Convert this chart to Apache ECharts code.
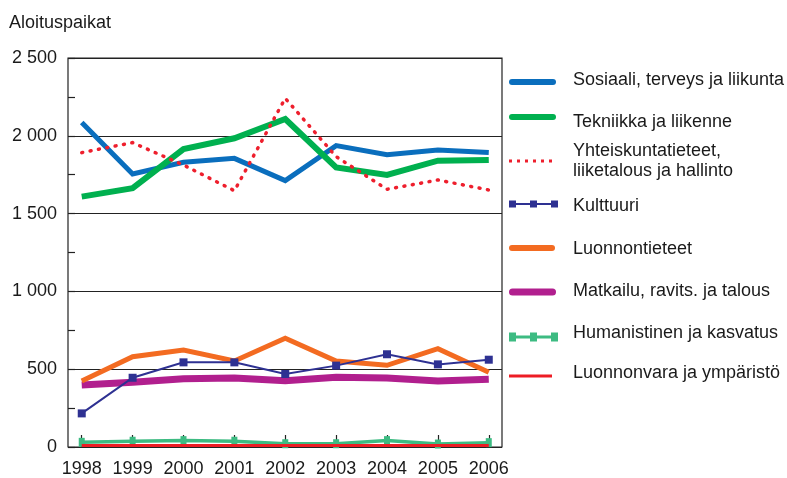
<!DOCTYPE html>
<html>
<head>
<meta charset="utf-8">
<script src="https://cdn.jsdelivr.net/npm/echarts@6/dist/echarts.min.js"></script>
<style>
html,body{margin:0;padding:0;background:#fff;}
#chart{width:787px;height:478px;}
</style>
</head>
<body>
<div id="chart"></div>
<script>
var years = [1998, 1999, 2000, 2001, 2002, 2003, 2004, 2005, 2006];
var yTicks = [0, 500, 1000, 1500, 2000, 2500];
var yTickLabels = ['0', '500', '1 000', '1 500', '2 000', '2 500'];
var yAxisTitle = 'Aloituspaikat';

var names = [
  'Sosiaali, terveys ja liikunta',
  'Tekniikka ja liikenne',
  'Yhteiskuntatieteet,\nliiketalous ja hallinto',
  'Kulttuuri',
  'Luonnontieteet',
  'Matkailu, ravits. ja talous',
  'Humanistinen ja kasvatus',
  'Luonnonvara ja ympäristö'
];

var sosiaali = [2085, 1755, 1830, 1855, 1712, 1937, 1879, 1909, 1892];
var tekniikka = [1609, 1663, 1915, 1984, 2108, 1797, 1748, 1840, 1845];
var yhteiskunta = [1892, 1956, 1812, 1647, 2241, 1866, 1656, 1716, 1652];
var kulttuuri = [216, 445, 544, 544, 469, 523, 596, 531, 561];
var luonnontieteet = [424, 580, 623, 553, 699, 553, 525, 632, 480];
var matkailu = [398, 416, 439, 443, 426, 448, 443, 424, 435];
var humanistinen = [30, 37, 41, 37, 21, 21, 41, 19, 28];
var luonnonvara = [10, 10, 10, 10, 10, 10, 10, 10, 10];

var FONT = "'Liberation Sans', Arial, sans-serif";
var FS = 18;

function pairs(vals) {
  return vals.map(function (v, i) { return [years[i], v]; });
}

var seriesDefs = [
  {data: sosiaali, color: '#0a6ebd', width: 5, z: 3},
  {data: tekniikka, color: '#00b04f', width: 6, z: 3},
  {data: yhteiskunta, color: '#ee1f2d', width: 3.5, dash: [1, 7.5], cap: 'round', z: 4},
  {data: kulttuuri, color: '#2e3192', width: 2, symbol: 'rect', symbolSize: 8, z: 6},
  {data: luonnontieteet, color: '#f36b21', width: 5, z: 5},
  {data: matkailu, color: '#b11f8e', width: 7, z: 4},
  {data: humanistinen, color: '#3dbb82', width: 3.5, symbol: 'rect', symbolSize: [6, 9], z: 3},
  {data: luonnonvara, color: '#ed1c24', width: 3, z: 4}
];

var series = seriesDefs.map(function (d, i) {
  return {
    name: names[i],
    type: 'line',
    data: pairs(d.data),
    color: d.color,
    z: d.z,
    symbol: d.symbol || 'none',
    symbolSize: d.symbolSize || 0,
    showSymbol: !!d.symbol,
    lineStyle: {color: d.color, width: d.width, type: d.dash || 'solid', cap: d.cap || 'butt', join: 'miter'},
    itemStyle: {color: d.color},
    emphasis: {disabled: true},
    animation: false,
    clip: false
  };
});

// legend icon shapes (in pixel units: width w, height h)
function roundLine(w, h) {
  var r = h / 2;
  return 'M' + r + ',0H' + (w - r) + 'A' + r + ',' + r + ' 0 0 1 ' + (w - r) + ',' + h +
    'H' + r + 'A' + r + ',' + r + ' 0 0 1 ' + r + ',0Z';
}
function rectLine(w, h) { return 'M0,0H' + w + 'V' + h + 'H0Z'; }
function dots(n, d, gap) {
  var p = '';
  for (var k = 0; k < n; k++) { var x = k * (d + gap); p += 'M' + x + ',0h' + d + 'v' + d + 'h-' + d + 'z'; }
  return p;
}
function sqLine(w, s, sh, lw) {
  var mid = (w - s) / 2;
  return 'M0,0h' + s + 'v' + sh + 'h-' + s + 'z' +
    'M' + mid + ',0h' + s + 'v' + sh + 'h-' + s + 'z' +
    'M' + (w - s) + ',0h' + s + 'v' + sh + 'h-' + s + 'z' +
    'M0,' + ((sh - lw) / 2) + 'h' + w + 'v' + lw + 'h-' + w + 'z';
}

// icon centre y, text centre y (both)
var legendItems = [
  {iconY: 82, textY: 80, shape: roundLine(47, 6), w: 47, h: 6, lines: 1, lh: 23},
  {iconY: 117, textY: 122.5, shape: roundLine(47, 6), w: 47, h: 6, lines: 1, lh: 23},
  {iconY: 161, textY: 161, shape: dots(6, 3, 5), w: 43, h: 3, lines: 2, lh: 20},
  {iconY: 204, textY: 206, shape: sqLine(49, 7, 7, 2), w: 49, h: 7, lines: 1, lh: 23},
  {iconY: 248, textY: 249, shape: roundLine(46, 6), w: 46, h: 6, lines: 1, lh: 23},
  {iconY: 292, textY: 291, shape: roundLine(47, 7), w: 47, h: 7, lines: 1, lh: 23},
  {iconY: 337, textY: 333, shape: sqLine(49, 7, 9, 3), w: 49, h: 9, lines: 1, lh: 23},
  {iconY: 376, textY: 373, shape: rectLine(43, 3), w: 43, h: 3, lines: 1, lh: 23}
];
var legends = legendItems.map(function (it, i) {
  var s = it.textY - it.iconY;
  var path = it.shape;
  var H = it.h;
  if (s > 0) { H = it.h + 2 * s; path += 'M0,' + H + 'L0,' + H; }
  else if (s < 0) { H = it.h - 2 * s; path += 'M0,' + (2 * s) + 'L0,' + (2 * s); }
  return {
    data: [{name: names[i], icon: 'path://' + path}],
    left: 509,
    top: it.textY - (it.lh * it.lines) / 2,
    orient: 'vertical',
    padding: 0,
    itemWidth: it.w,
    itemHeight: H,
    selectedMode: false,
    itemStyle: {borderWidth: 0},
    textStyle: {
      fontFamily: FONT, fontSize: FS, color: '#1a1a1a', lineHeight: it.lh,
      padding: [0, 0, 0, 59 - it.w]
    }
  };
});

var chart = echarts.init(document.getElementById('chart'), null, {renderer: 'canvas'});
chart.setOption({
  animation: false,
  backgroundColor: '#ffffff',
  grid: {left: 68, right: 285, top: 58, bottom: 31, show: true, borderColor: '#222', borderWidth: 1.2, backgroundColor: 'transparent'},
  legend: legends,
  graphic: [{
    type: 'text', left: 9, top: 14,
    style: {text: yAxisTitle, fontFamily: FONT, fontSize: FS, fill: '#1a1a1a'}
  }],
  xAxis: {
    type: 'value',
    min: 1997.73,
    max: 2006.26,
    axisLine: {show: false},
    splitLine: {show: false},
    axisTick: {show: true, inside: true, length: 12, customValues: years, lineStyle: {color: '#222', width: 1.2}},
    axisLabel: {customValues: years, margin: 13, fontFamily: FONT, fontSize: FS, color: '#1a1a1a',
      formatter: function (v) { return String(v); }}
  },
  yAxis: [{
    type: 'value',
    min: 0,
    max: 2500,
    interval: 500,
    axisLine: {show: false},
    axisTick: {show: false},
    splitLine: {show: true, lineStyle: {color: '#222', width: 1.2}},
    axisLabel: {margin: 11, fontFamily: FONT, fontSize: FS, color: '#1a1a1a',
      formatter: function (v) { var k = yTicks.indexOf(v); return k >= 0 ? yTickLabels[k] : ''; }}
  }, {
    type: 'value',
    position: 'left',
    min: 0,
    max: 2500,
    interval: 250,
    axisLine: {show: false},
    axisTick: {show: true, inside: true, length: 7, lineStyle: {color: '#222', width: 1.2}},
    splitLine: {show: false},
    axisLabel: {show: false}
  }],
  series: series
});
</script>
</body>
</html>
